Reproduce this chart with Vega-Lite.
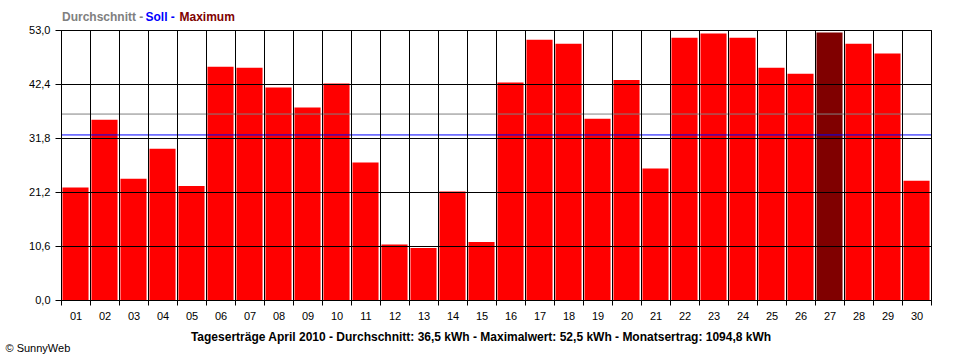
{
  "$schema": "https://vega.github.io/schema/vega-lite/v6.json",
  "width": 870,
  "height": 270,
  "autosize": {"type": "none"},
  "padding": {"left": 61, "top": 30, "right": 29, "bottom": 60},
  "background": "white",
  "config": {
    "view": {"stroke": "black", "strokeWidth": 1},
    "font": "Liberation Sans"
  },
  "datasets": {
    "tage": [
      {"tag": "01", "ertrag": 22.1},
      {"tag": "02", "ertrag": 35.4},
      {"tag": "03", "ertrag": 23.8},
      {"tag": "04", "ertrag": 29.7},
      {"tag": "05", "ertrag": 22.4},
      {"tag": "06", "ertrag": 45.8},
      {"tag": "07", "ertrag": 45.6},
      {"tag": "08", "ertrag": 41.7},
      {"tag": "09", "ertrag": 37.8},
      {"tag": "10", "ertrag": 42.5},
      {"tag": "11", "ertrag": 27.0},
      {"tag": "12", "ertrag": 10.9},
      {"tag": "13", "ertrag": 10.2},
      {"tag": "14", "ertrag": 21.3},
      {"tag": "15", "ertrag": 11.4},
      {"tag": "16", "ertrag": 42.7},
      {"tag": "17", "ertrag": 51.1},
      {"tag": "18", "ertrag": 50.3},
      {"tag": "19", "ertrag": 35.6},
      {"tag": "20", "ertrag": 43.2},
      {"tag": "21", "ertrag": 25.8},
      {"tag": "22", "ertrag": 51.5},
      {"tag": "23", "ertrag": 52.3},
      {"tag": "24", "ertrag": 51.5},
      {"tag": "25", "ertrag": 45.6},
      {"tag": "26", "ertrag": 44.4},
      {"tag": "27", "ertrag": 52.5},
      {"tag": "28", "ertrag": 50.3},
      {"tag": "29", "ertrag": 48.4},
      {"tag": "30", "ertrag": 23.4}
    ],
    "linien": [
      {"name": "Durchschnitt", "wert": 36.5},
      {"name": "Soll", "wert": 32.4}
    ]
  },
  "layer": [
    {
      "data": {"name": "tage"},
      "mark": {"type": "bar", "width": {"band": 0.9}},
      "encoding": {
        "x": {
          "field": "tag",
          "type": "ordinal",
          "scale": {"paddingInner": 0, "paddingOuter": 0},
          "axis": {
            "title": "Tageserträge April 2010 - Durchschnitt: 36,5 kWh - Maximalwert: 52,5 kWh - Monatsertrag: 1094,8 kWh",
            "titleX": 419.5,
            "titleY": 40.5,
            "titleAlign": "center",
            "titleAnchor": null,
            "titleBaseline": "alphabetic",
            "titleFont": "Liberation Sans",
            "titleFontSize": 12,
            "titleFontWeight": "bold",
            "titleColor": "black",
            "labelAngle": 0,
            "labelFont": "Liberation Sans",
            "labelFontSize": 11,
            "labelColor": "black",
            "labelPadding": 5,
            "tickBand": "extent",
            "tickSize": 5,
            "tickColor": "black",
            "domainColor": "black",
            "grid": true,
            "gridColor": "black",
            "gridOpacity": 1,
            "gridWidth": 1,
            "zindex": 1
          }
        },
        "y": {
          "field": "ertrag",
          "type": "quantitative",
          "scale": {"domain": [0, 53], "nice": false, "zero": true},
          "axis": {
            "values": [0, 10.6, 21.2, 31.8, 42.4, 53],
            "labelExpr": "replace(format(datum.value, '.1f'), '.', ',')",
            "title": "© SunnyWeb",
            "titleAngle": 0,
            "titleX": -56,
            "titleY": 321.5,
            "titleAlign": "left",
            "titleAnchor": null,
            "titleBaseline": "alphabetic",
            "titleFont": "Liberation Sans",
            "titleFontSize": 11,
            "titleFontWeight": "normal",
            "titleColor": "black",
            "labelFont": "Liberation Sans",
            "labelFontSize": 11,
            "labelColor": "black",
            "labelPadding": 5,
            "tickSize": 6,
            "tickColor": "black",
            "domainColor": "black",
            "grid": true,
            "gridColor": "black",
            "gridOpacity": 1,
            "gridWidth": 1,
            "zindex": 1
          }
        },
        "color": {
          "condition": {"test": "datum.ertrag >= 52.5", "value": "#800000"},
          "value": "#ff0000"
        }
      }
    },
    {
      "data": {"name": "linien"},
      "mark": {"type": "rule", "strokeWidth": 1},
      "encoding": {
        "y": {"field": "wert", "type": "quantitative"},
        "color": {
          "field": "name",
          "type": "nominal",
          "scale": {"domain": ["Durchschnitt", "Soll"], "range": ["#808080", "#0000ff"]},
          "legend": null
        }
      }
    },
    {
      "data": {"values": [{"label": "Durchschnitt -"}]},
      "mark": {"type": "text", "align": "left", "baseline": "alphabetic", "dx": -13.5, "dy": -9, "font": "Liberation Sans", "fontSize": 12, "fontWeight": "bold", "color": "#808080"},
      "encoding": {
        "x": {"datum": "01", "type": "ordinal"},
        "y": {"datum": 53, "type": "quantitative"},
        "text": {"field": "label"}
      }
    },
    {
      "data": {"values": [{"label": "Soll -"}]},
      "mark": {"type": "text", "align": "left", "baseline": "alphabetic", "dx": 70, "dy": -9, "font": "Liberation Sans", "fontSize": 12, "fontWeight": "bold", "color": "#0000ff"},
      "encoding": {
        "x": {"datum": "01", "type": "ordinal"},
        "y": {"datum": 53, "type": "quantitative"},
        "text": {"field": "label"}
      }
    },
    {
      "data": {"values": [{"label": "Maximum"}]},
      "mark": {"type": "text", "align": "left", "baseline": "alphabetic", "dx": 104, "dy": -9, "font": "Liberation Sans", "fontSize": 12, "fontWeight": "bold", "color": "#800000"},
      "encoding": {
        "x": {"datum": "01", "type": "ordinal"},
        "y": {"datum": 53, "type": "quantitative"},
        "text": {"field": "label"}
      }
    }
  ]
}
